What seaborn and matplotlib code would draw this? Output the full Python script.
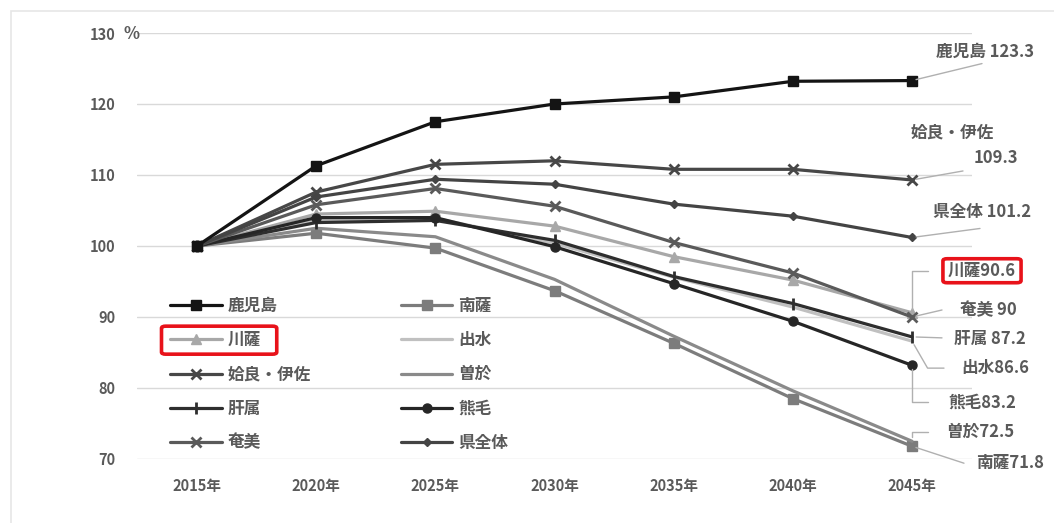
import matplotlib
matplotlib.use("Agg")
import matplotlib.pyplot as plt
from matplotlib.patches import Rectangle, FancyBboxPatch
import seaborn as sns
import pandas as pd

# 将来推計人口の指数（2015年=100）
years = [2015, 2020, 2025, 2030, 2035, 2040, 2045]
year_labels = ["2015年", "2020年", "2025年", "2030年", "2035年", "2040年", "2045年"]

kagoshima = [100, 111.3, 117.5, 120.0, 121.0, 123.2, 123.3]
nansatsu = [100, 101.8, 99.7, 93.7, 86.3, 78.5, 71.8]
sensatsu = [100, 104.5, 104.9, 102.8, 98.5, 95.2, 90.6]
izumi = [100, 103.6, 103.9, 100.4, 95.6, 91.4, 86.6]
aira_isa = [100, 107.6, 111.5, 112.0, 110.8, 110.8, 109.3]
soo = [100, 102.5, 101.3, 95.3, 87.3, 79.6, 72.5]
kimotsuki = [100, 103.3, 103.6, 100.8, 95.7, 91.9, 87.2]
kumage = [100, 104.0, 104.0, 99.9, 94.7, 89.4, 83.2]
amami = [100, 105.8, 108.1, 105.6, 100.5, 96.2, 90.0]
ken_zentai = [100, 106.9, 109.4, 108.7, 105.9, 104.2, 101.2]

y_ticks = [70, 80, 90, 100, 110, 120, 130]

series = [
    # name, values, colour, marker, marker size
    ("鹿児島", kagoshima, "#141414", "s", 7),
    ("南薩", nansatsu, "#7c7c7c", "s", 7),
    ("川薩", sensatsu, "#a8a8a8", "^", 7),
    ("出水", izumi, "#c0c0c0", None, 0),
    ("姶良・伊佐", aira_isa, "#474747", "x", 7),
    ("曽於", soo, "#8a8a8a", None, 0),
    ("肝属", kimotsuki, "#2e2e2e", "|", 8),
    ("熊毛", kumage, "#262626", "o", 6.5),
    ("奄美", amami, "#5a5a5a", "x", 7),
    ("県全体", ken_zentai, "#444444", "D", 4.5),
]

sns.set_theme(style="white")
plt.rcParams["font.family"] = ["Noto Sans CJK JP", "DejaVu Sans"]
TXT = "#5a5a5a"

fig = plt.figure(figsize=(10.54, 5.23), dpi=100)
ax = fig.add_axes([0.1304, 0.1224, 0.7914, 0.8145])

frames = []
for name, vals, col, mk, ms in series:
    frames.append(pd.DataFrame({"year": years, "value": vals, "area": name}))
df = pd.concat(frames, ignore_index=True)

handles = {}
draw_order = [s for s in series if s[0] != "鹿児島"] + [s for s in series if s[0] == "鹿児島"]
for name, vals, col, mk, ms in draw_order:
    sub = df[df["area"] == name]
    sns.lineplot(data=sub, x="year", y="value", ax=ax, color=col, lw=2.3,
                 marker=mk if mk else None, markersize=ms,
                 markeredgecolor=col, markerfacecolor=col,
                 markeredgewidth=2 if mk in ("x", "|") else 1,
                 label=name, legend=False, zorder=3)
    handles[name] = ax.lines[-1]

ax.set_xlim(2012.5, 2047.5)
ax.set_ylim(70, 130)
ax.set_xticks(years)
ax.set_xticklabels(year_labels)
ax.set_yticks(y_ticks)
ax.set_yticklabels([str(v) for v in y_ticks])
ax.tick_params(axis="both", length=0, labelsize=10.5, labelcolor=TXT)
ax.tick_params(axis="x", pad=14)
ax.tick_params(axis="y", pad=16)
for lab in ax.get_xticklabels() + ax.get_yticklabels():
    lab.set_fontweight("bold")
ax.set_xlabel("")
ax.set_ylabel("")
ax.yaxis.grid(True, color="#d9d9d9", lw=1)
ax.xaxis.grid(False)
for sp in ax.spines.values():
    sp.set_visible(False)

# unit mark next to the top tick
ax.annotate("%", xy=(0, 130), xycoords=("axes fraction", "data"),
            xytext=(-6, -1), textcoords="offset pixels", ha="center", va="center",
            fontsize=12, fontweight="bold", color=TXT, annotation_clip=False)

# legend: two columns, row-wise order
col1 = ["鹿児島", "川薩", "姶良・伊佐", "肝属", "奄美"]
col2 = ["南薩", "出水", "曽於", "熊毛", "県全体"]
order = col1 + col2
leg = ax.legend([handles[n] for n in order], order, ncol=2, loc="upper left",
                bbox_to_anchor=(170 / 1054, 1 - 297 / 523), bbox_transform=fig.transFigure,
                frameon=False, borderpad=0, borderaxespad=0, handlelength=3.1,
                handletextpad=0.35, columnspacing=5.4, labelspacing=0.97,
                prop={"size": 12, "weight": "bold"})
for t in leg.get_texts():
    t.set_color(TXT)

# end-of-line labels with leader lines (offsets in pixels from the 2045 point)
end_labels = [
    # name, text, text offset, leader end, connection style
    ("鹿児島", "鹿児島 123.3", (73, 29), (70, 17), "arc3"),
    ("姶良・伊佐", "109.3", (84, 22), (51, 9), "arc3"),
    ("県全体", "県全体 101.2", (70, 25), (68, 9), "arc3"),
    ("川薩", "川薩90.6", (70, 42), (16, 42), "angle,angleA=0,angleB=90,rad=0"),
    ("奄美", "奄美 90", (76, 7), (30, 7), "arc3"),
    ("肝属", "肝属 87.2", (78, -2), (30, -1), "arc3"),
    ("出水", "出水86.6", (83, -27), (32, -27), "angle,angleA=0,angleB=-60,rad=0"),
    ("熊毛", "熊毛83.2", (70, -37), (16, -37), "angle,angleA=0,angleB=90,rad=0"),
    ("曽於", "曽於72.5", (68, 9), (16, 9), "angle,angleA=0,angleB=90,rad=0"),
    ("南薩", "南薩71.8", (98, -17), (52, -17), "arc3"),
]
values_by_name = {s[0]: s[1] for s in series}
text_objs = {}
for name, label, toff, loff, cstyle in end_labels:
    pt = (years[-1], values_by_name[name][-1])
    ax.annotate("", xy=pt, xytext=loff, textcoords="offset pixels",
                arrowprops=dict(arrowstyle="-", color="#b0b0b0", lw=1,
                                shrinkA=0, shrinkB=3, connectionstyle=cstyle),
                annotation_clip=False)
    text_objs[name] = ax.annotate(label, xy=pt, xytext=toff, textcoords="offset pixels",
                                  ha="center", va="center", fontsize=12, fontweight="bold",
                                  color=TXT, annotation_clip=False, zorder=5)
ax.annotate("姶良・伊佐", xy=(years[-1], aira_isa[-1]), xytext=(40, 47),
            textcoords="offset pixels", ha="center", va="center", fontsize=12,
            fontweight="bold", color=TXT, annotation_clip=False)

# red highlight boxes around 川薩
fig.canvas.draw()
renderer = fig.canvas.get_renderer()
inv = fig.transFigure.inverted()


def red_box(x0, y0, x1, y1):
    (fx0, fy0) = inv.transform((x0, y0))
    (fx1, fy1) = inv.transform((x1, y1))
    fig.patches.append(FancyBboxPatch((fx0, fy0), fx1 - fx0, fy1 - fy0,
                                      boxstyle="round,pad=0,rounding_size=0.004",
                                      transform=fig.transFigure, fill=False,
                                      edgecolor="#e8121a", lw=2.6, zorder=10))


tb = text_objs["川薩"].get_window_extent(renderer)
red_box(tb.x0 - 5, tb.y0 - 3, tb.x1 + 5, tb.y1 + 3)

lt = leg.get_texts()[order.index("川薩")].get_window_extent(renderer)
red_box(lt.x0 - 66, lt.y0 - 5, lt.x1 + 16, lt.y1 + 5)

# faint outer frame of the chart area
fig.patches.append(Rectangle((11 / 1054, -0.01), 1.1, 1 - 11 / 523 + 0.01,
                             transform=fig.transFigure, fill=False,
                             edgecolor="#e6e6e6", lw=1.2, zorder=0))

fig.savefig("out.png", dpi=100, facecolor="white")
